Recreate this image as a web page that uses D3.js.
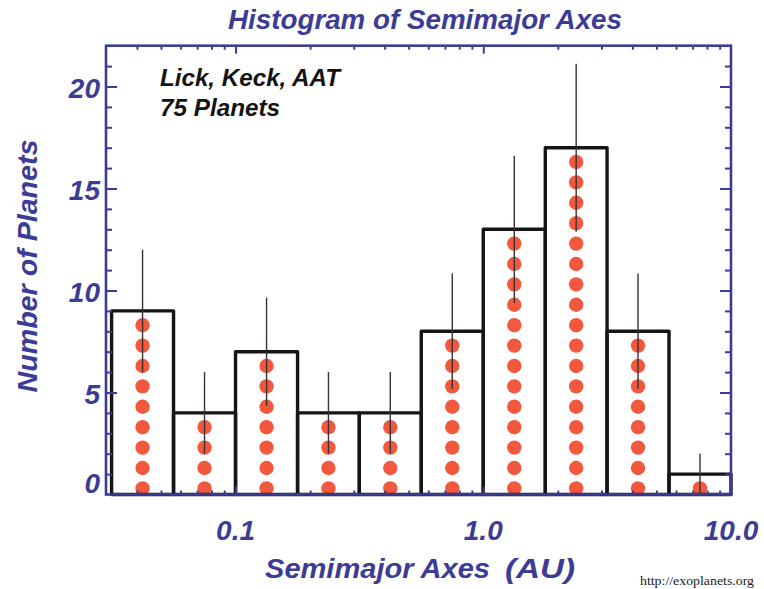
<!DOCTYPE html>
<html>
<head>
<meta charset="utf-8">
<script src="https://cdn.jsdelivr.net/npm/d3@7"></script>
<style>
  body { margin: 0; background: #fff; }
  svg text { font-family: "Liberation Sans", Arial, sans-serif; }
  svg text.credit { font-family: "Liberation Serif", "Times New Roman", serif; }
</style>
</head>
<body>
<svg id="chart" width="764" height="589"></svg>
<script>
// Semimajor-axis bins (AU), quarter-decade wide in log space
const binEdges = [0.0316, 0.0562, 0.1, 0.178, 0.316, 0.562, 1.0, 1.78, 3.16, 5.62, 10.0];
// Planets per bin
const counts = [9, 4, 7, 4, 4, 8, 13, 17, 8, 1];
// Poisson error per bin
const errors = [3.0, 2.0, 2.65, 2.0, 2.0, 2.83, 3.61, 4.12, 2.83, 1.0];
// Axis labels
const xTickValues = [0.1, 1.0, 10.0];
const xTickLabels = ["0.1", "1.0", "10.0"];
const yTickValues = [0, 5, 10, 15, 20];
const yTickLabels = ["0", "5", "10", "15", "20"];

const BLUE = "#3c3c96";
const DOT = "#f2583e";

const svg = d3.select("#chart");

const frame = { left: 106, right: 731, top: 45.7, bottom: 494.5 };

const x = d3.scaleLog().domain([0.03, 10]).range([frame.left, frame.right]);
const y = d3.scaleLinear().domain([0, 22]).range([frame.bottom, frame.top]);

const bins = counts.map((c, i) => ({
  x0: binEdges[i], x1: binEdges[i + 1], count: c, err: errors[i],
  xc: Math.sqrt(binEdges[i] * binEdges[i + 1])
}));

// one dot per planet, stacked inside each bin
const dots = [];
bins.forEach(b => {
  for (let k = 0; k < b.count; k++) dots.push({ xc: b.xc, v: k + 0.3 });
});

svg.append("g").selectAll("circle").data(dots).join("circle")
  .attr("cx", d => x(d.xc))
  .attr("cy", d => y(d.v))
  .attr("r", 7.2)
  .attr("fill", DOT);

// histogram outlines
svg.append("g").selectAll("rect").data(bins).join("rect")
  .attr("x", d => x(d.x0))
  .attr("y", d => y(d.count))
  .attr("width", d => x(d.x1) - x(d.x0))
  .attr("height", d => y(0) - y(d.count))
  .attr("fill", "none")
  .attr("stroke", "#161414")
  .attr("stroke-width", 3.4)
  .attr("stroke-linejoin", "round");

// error bars
svg.append("g").selectAll("line").data(bins).join("line")
  .attr("x1", d => x(d.xc)).attr("x2", d => x(d.xc))
  .attr("y1", d => y(Math.max(0, d.count - d.err)))
  .attr("y2", d => y(d.count + d.err))
  .attr("stroke", "#3a3232")
  .attr("stroke-width", 1.4);

// axes: ticks point inward on all four sides
const isMajorX = v => Math.abs(Math.log10(v) - Math.round(Math.log10(v))) < 1e-9;
const xTicks = x.ticks().filter(v => v > 0.0301 && v < 9.99);
const xMinor = xTicks.filter(v => !isMajorX(v));
const xMajor = xTicks.filter(isMajorX);

function styleAxis(g) {
  g.select(".domain").remove();
  g.selectAll("line").attr("stroke", BLUE).attr("stroke-width", 2);
  g.selectAll("text").remove();
}

svg.append("g").attr("transform", `translate(0,${frame.bottom})`)
  .call(d3.axisBottom(x).tickValues(xMinor).tickSize(-4).tickFormat("")).call(styleAxis);
svg.append("g").attr("transform", `translate(0,${frame.bottom})`)
  .call(d3.axisBottom(x).tickValues(xMajor).tickSize(-8).tickFormat("")).call(styleAxis);
svg.append("g").attr("transform", `translate(0,${frame.top})`)
  .call(d3.axisTop(x).tickValues(xMinor).tickSize(-4).tickFormat("")).call(styleAxis);
svg.append("g").attr("transform", `translate(0,${frame.top})`)
  .call(d3.axisTop(x).tickValues(xMajor).tickSize(-8).tickFormat("")).call(styleAxis);

const yAll = d3.range(1, 22);
const yMinor = yAll.filter(v => v % 5 !== 0);
const yMajor = yAll.filter(v => v % 5 === 0);
svg.append("g").attr("transform", `translate(${frame.left},0)`)
  .call(d3.axisLeft(y).tickValues(yMinor).tickSize(-6).tickFormat("")).call(styleAxis);
svg.append("g").attr("transform", `translate(${frame.left},0)`)
  .call(d3.axisLeft(y).tickValues(yMajor).tickSize(-11).tickFormat("")).call(styleAxis);
svg.append("g").attr("transform", `translate(${frame.right},0)`)
  .call(d3.axisRight(y).tickValues(yMinor).tickSize(-6).tickFormat("")).call(styleAxis);
svg.append("g").attr("transform", `translate(${frame.right},0)`)
  .call(d3.axisRight(y).tickValues(yMajor).tickSize(-11).tickFormat("")).call(styleAxis);

// plot frame
svg.append("rect")
  .attr("x", frame.left).attr("y", frame.top)
  .attr("width", frame.right - frame.left).attr("height", frame.bottom - frame.top)
  .attr("fill", "none").attr("stroke", BLUE).attr("stroke-width", 2.6);

// tick labels
const labelStyle = sel => sel
  .attr("fill", BLUE).attr("font-weight", "bold").attr("font-style", "italic")
  .attr("font-size", 28);

svg.append("g").selectAll("text").data(xTickValues).join("text")
  .attr("x", d => x(d)).attr("y", 540)
  .attr("text-anchor", "middle")
  .text((d, i) => xTickLabels[i])
  .call(labelStyle);

svg.append("g").selectAll("text").data(yTickValues).join("text")
  .attr("x", 100)
  .attr("y", d => d === 0 ? 493 : y(d) + 11)
  .attr("text-anchor", "end")
  .text((d, i) => yTickLabels[i])
  .call(labelStyle);

// titles
svg.append("text")
  .attr("x", 425).attr("y", 29).attr("text-anchor", "middle")
  .attr("textLength", 394).attr("lengthAdjust", "spacingAndGlyphs")
  .text("Histogram of Semimajor Axes")
  .call(labelStyle).attr("font-size", 27);

svg.append("text")
  .attr("x", 265).attr("y", 578)
  .attr("textLength", 225).attr("lengthAdjust", "spacingAndGlyphs")
  .text("Semimajor Axes")
  .call(labelStyle).attr("font-size", 28);
svg.append("text")
  .attr("x", 505).attr("y", 578)
  .attr("textLength", 70).attr("lengthAdjust", "spacingAndGlyphs")
  .text("(AU)")
  .call(labelStyle).attr("font-size", 28);

svg.append("text")
  .attr("transform", "translate(37,266) rotate(-90)")
  .attr("text-anchor", "middle")
  .attr("textLength", 253).attr("lengthAdjust", "spacingAndGlyphs")
  .text("Number of Planets")
  .call(labelStyle).attr("font-size", 28);

// sample annotation
const note = svg.append("g").attr("fill", "#141212")
  .attr("font-weight", "bold").attr("font-style", "italic").attr("font-size", 24);
note.append("text").attr("x", 160).attr("y", 86)
  .attr("textLength", 180).attr("lengthAdjust", "spacingAndGlyphs")
  .text("Lick, Keck, AAT");
note.append("text").attr("x", 160).attr("y", 116)
  .attr("textLength", 120).attr("lengthAdjust", "spacingAndGlyphs")
  .text("75 Planets");

// source credit
svg.append("text")
  .attr("class", "credit")
  .attr("x", 640).attr("y", 585)
  .attr("font-size", 13).attr("fill", "#222")
  .attr("textLength", 114).attr("lengthAdjust", "spacingAndGlyphs")
  .text("http://exoplanets.org");
</script>
</body>
</html>
